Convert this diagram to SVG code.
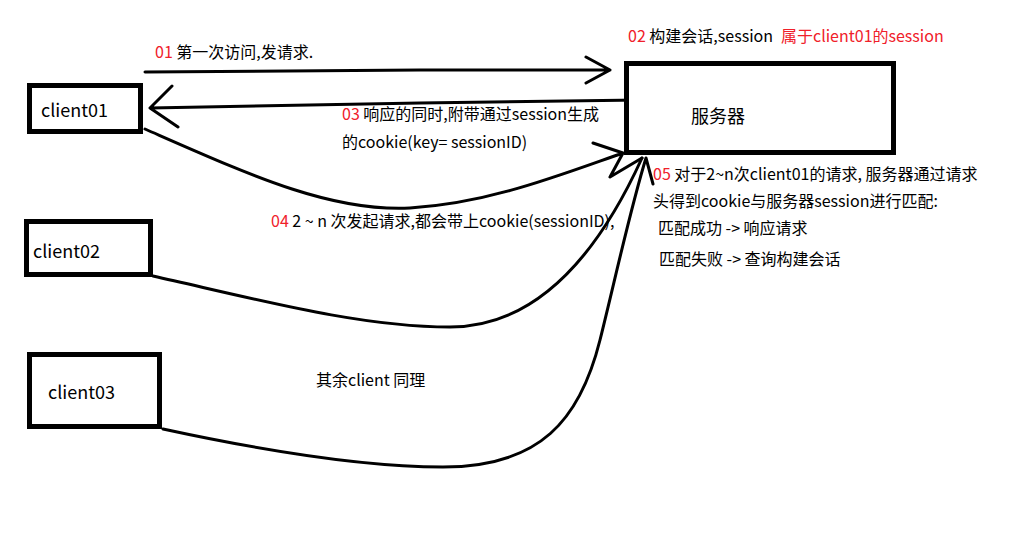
<svg xmlns="http://www.w3.org/2000/svg" width="1029" height="538" viewBox="0 0 1029 538">
<style>
.box{fill:#fff;stroke:#000;stroke-width:5}
.ln{fill:none;stroke:#000;stroke-width:3;stroke-linecap:round;stroke-linejoin:round}
text{font-family:"Noto Sans CJK SC","Liberation Sans",sans-serif;fill:#000}
.n{font-size:18px}
.t{font-size:16px}
.r{fill:#f0202a}
</style>
<rect width="1029" height="538" fill="#fff"/>
<g id="connectors">
<path class="ln" d="M145,72 L420,70 L610,70 M586,57 L610,70 L586,83"/>
<path class="ln" d="M640,100 L420,103 L150,108 M172,86 L150,108 L178,127"/>
<path class="ln" d="M145,129 C250,175 330,212 410,208 C490,203 560,175 623,153 M593,143 L623,153 L610,177 L642,158"/>
<path class="ln" d="M153,276 C260,300 360,327 450,327 C540,327 600,250 642,158"/>
<path class="ln" d="M163,429 C260,450 360,467 443,467 C540,467 580,420 600,340 C615,280 630,210 646,158 L653,184"/>
</g>
<g id="client01"><rect class="box" x="29.500" y="85.500" width="111" height="46"/><text class="n" x="41" y="117">client01</text></g>
<g id="client02"><rect class="box" x="26.500" y="221.500" width="124" height="53"/><text class="n" x="33" y="258">client02</text></g>
<g id="client03"><rect class="box" x="29.500" y="354.500" width="130" height="72"/><text class="n" x="48" y="399">client03</text></g>
<g id="server"><rect class="box" x="626.500" y="63.500" width="267" height="89"/><text class="n" x="691" y="123">服务器</text></g>
<g id="labels">
<text class="t" x="155" y="58"><tspan class="r">01</tspan> 第一次访问,发请求.</text>
<text class="t" x="628" y="42"><tspan class="r">02</tspan> 构建会话,session <tspan class="r" x="781">属于client01的session</tspan></text>
<text class="t" x="342" y="120"><tspan class="r">03</tspan> 响应的同时,附带通过session生成</text>
<text class="t" x="342" y="148">的cookie(key= sessionID)</text>
<text class="t" x="271" y="227"><tspan class="r">04</tspan> 2 ~ n 次发起请求,都会带上cookie(sessionID),</text>
<text class="t" x="653" y="180"><tspan class="r">05</tspan> 对于2~n次client01的请求, 服务器通过请求</text>
<text class="t" x="653" y="207">头得到cookie与服务器session进行匹配:</text>
<text class="t" x="658" y="234">匹配成功 -&gt; 响应请求</text>
<text class="t" x="659" y="265">匹配失败 -&gt; 查询构建会话</text>
<text class="t" x="316" y="386">其余client 同理</text>
</g>
</svg>
